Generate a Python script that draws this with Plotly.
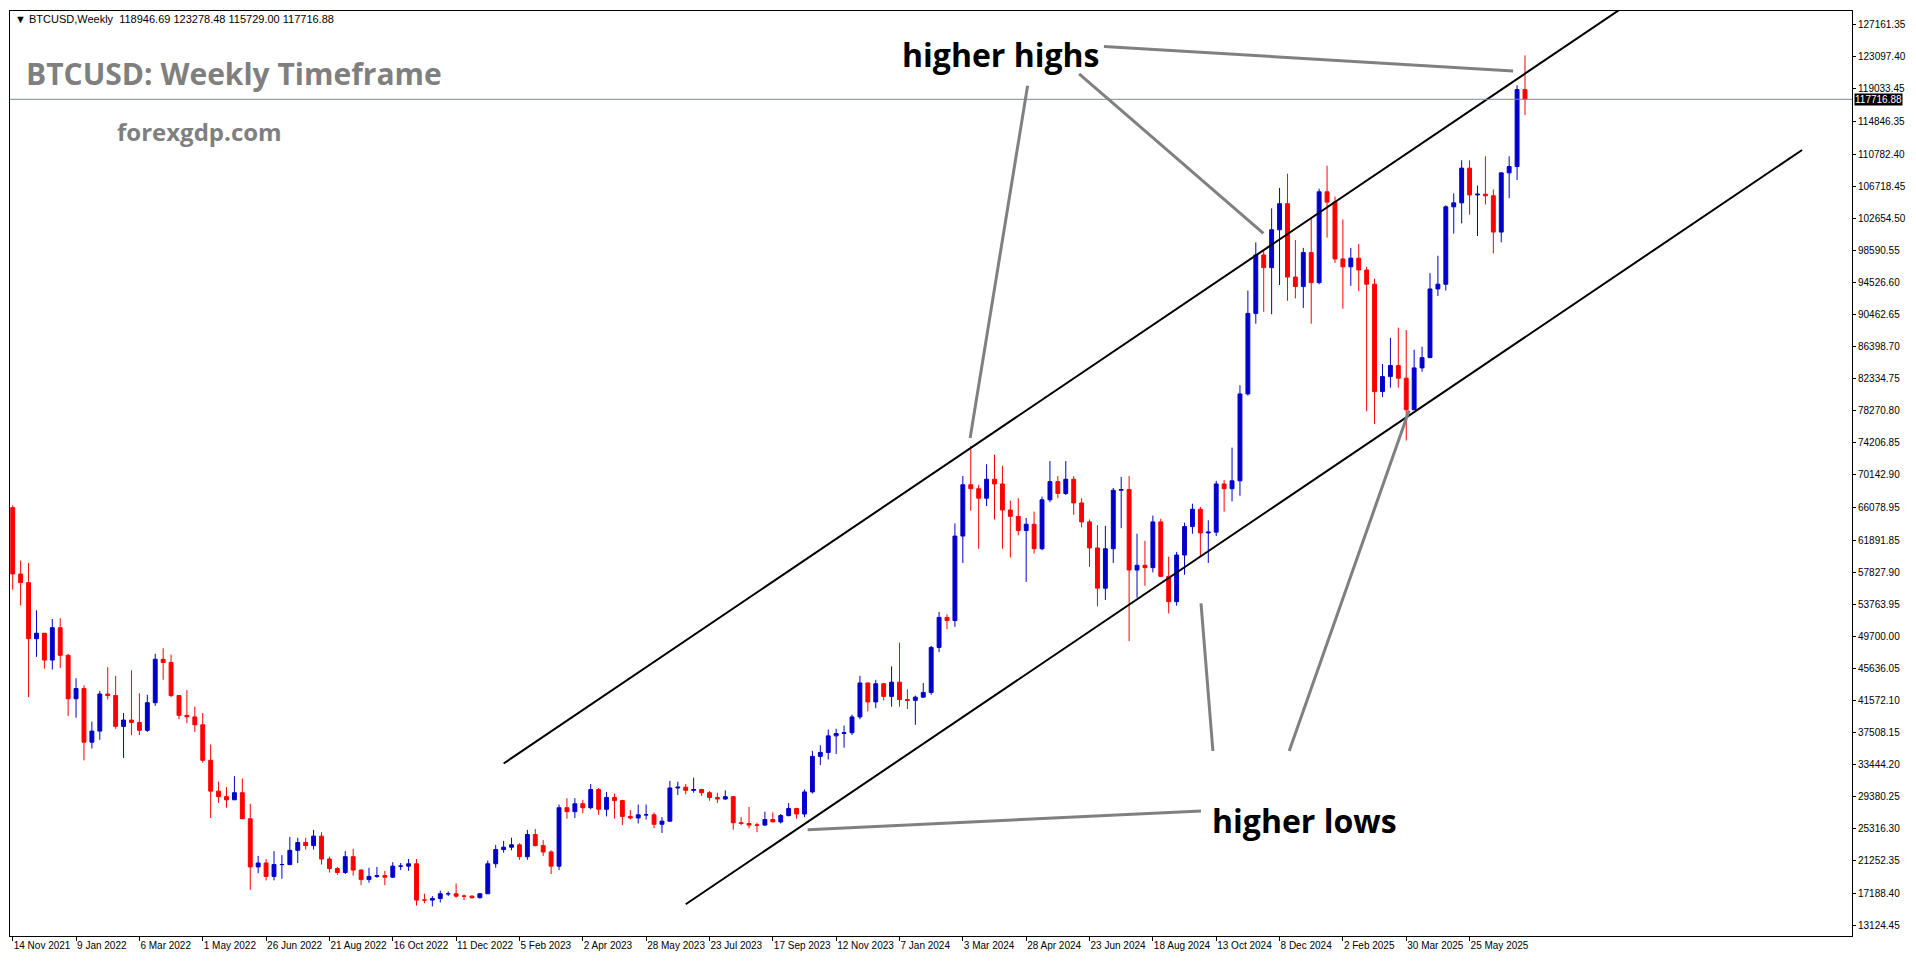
import pandas as pd
import plotly.graph_objects as go

# Weekly BTCUSD, values in thousands USD (week starts, 14 Nov 2021 .. 13 Jul 2025)
closes = [57.6, 56.5, 49.4, 50.1, 46.7, 50.8, 47.3, 41.8,
          43.1, 36.3, 37.7, 42.4, 42.2, 38.3, 39.1, 38.8,
          37.8, 41.3, 46.8, 46.4, 42.2, 39.7, 39.5, 38.5,
          34.0, 30.1, 29.4, 29.0, 29.9, 26.6, 20.5, 21.0,
          19.3, 20.8, 20.8, 22.6, 23.6, 23.2, 24.4, 21.5,
          20.3, 19.8, 21.8, 20.1, 18.9, 19.3, 19.4, 19.2,
          20.6, 20.6, 20.9, 16.3, 16.3, 16.5, 17.1, 17.1,
          16.8, 16.8, 16.6, 17.1, 20.9, 22.7, 23.0, 23.3,
          21.8, 24.6, 23.2, 22.4, 20.6, 28.0, 27.5, 28.5,
          28.0, 30.3, 27.8, 29.3, 28.9, 26.9, 26.7, 27.1,
          27.1, 25.9, 26.3, 30.5, 30.6, 30.2, 30.3, 29.9,
          29.3, 29.1, 29.4, 26.1, 26.0, 25.8, 25.8, 26.5,
          26.2, 27.0, 27.9, 27.2, 30.0, 34.5, 35.0, 37.1,
          37.4, 37.5, 39.5, 43.8, 41.4, 43.7, 42.1, 43.9,
          41.7, 41.6, 42.0, 42.6, 48.3, 52.1, 51.7, 62.4,
          68.9, 68.4, 67.2, 69.6, 69.0, 65.7, 64.9, 63.1,
          63.9, 60.8, 67.0, 69.3, 67.8, 69.6, 66.6, 64.2,
          60.9, 55.8, 60.8, 68.2, 68.3, 58.1, 58.7, 58.4,
          64.2, 57.3, 54.1, 60.0, 63.6, 65.8, 62.8, 62.9,
          69.0, 68.4, 69.4, 80.4, 90.6, 98.0, 96.4, 101.2,
          104.5, 95.2, 94.0, 98.3, 94.5, 106.0, 104.7, 97.5,
          96.5, 97.6, 96.1, 94.3, 80.7, 82.6, 84.0, 82.4,
          78.4, 83.7, 85.0, 93.7, 94.3, 104.1, 104.6, 109.0,
          105.6, 105.7, 105.5, 100.9, 108.4, 109.2, 118.95, 117.717]
highs = [66.3, 59.3, 59.0, 53.0, 50.0, 51.9, 52.0, 47.5,
         44.4, 43.5, 38.9, 42.8, 45.8, 44.7, 40.0, 45.4,
         42.5, 42.3, 47.5, 48.2, 47.4, 41.5, 42.9, 40.8,
         40.0, 36.0, 31.3, 30.6, 32.0, 31.7, 28.5, 21.9,
         21.5, 22.5, 22.0, 24.3, 24.2, 24.2, 25.2, 24.9,
         21.8, 20.5, 22.5, 22.8, 20.2, 20.4, 20.5, 20.0,
         21.1, 21.0, 21.5, 21.5, 17.1, 16.8, 17.5, 17.4,
         18.4, 17.0, 16.9, 17.2, 21.3, 23.3, 23.8, 24.2,
         23.5, 25.2, 25.3, 23.9, 22.6, 28.4, 29.2, 29.2,
         29.0, 31.0, 30.5, 30.0, 29.8, 29.0, 27.7, 28.4,
         28.4, 27.4, 26.8, 31.4, 31.3, 31.0, 31.8, 30.4,
         30.1, 29.9, 30.2, 29.5, 26.8, 28.1, 26.1, 27.5,
         27.4, 27.2, 28.6, 28.0, 30.3, 35.2, 35.9, 37.9,
         38.0, 38.4, 39.8, 44.7, 43.4, 44.2, 43.8, 45.9,
         48.9, 43.0, 42.2, 43.8, 48.5, 52.8, 52.5, 64.0,
         70.0, 73.8, 68.9, 71.5, 72.7, 71.3, 66.9, 67.2,
         64.7, 65.5, 67.4, 71.9, 70.0, 71.9, 70.0, 67.2,
         64.5, 63.8, 63.7, 68.5, 69.9, 70.0, 62.7, 61.8,
         65.0, 64.6, 59.8, 60.4, 64.1, 66.5, 66.1, 64.4,
         69.4, 69.5, 73.6, 81.5, 93.5, 99.6, 98.7, 103.9,
         106.5, 108.3, 99.9, 98.9, 102.7, 106.4, 109.3, 105.4,
         102.5, 98.9, 99.4, 96.5, 95.0, 84.2, 87.5, 88.8,
         88.5, 86.0, 86.4, 95.7, 97.9, 104.3, 105.8, 110.0,
         110.0, 106.8, 110.5, 106.3, 108.5, 110.5, 119.5, 123.278]
lows = [55.6, 53.6, 42.0, 47.1, 45.6, 45.5, 45.7, 39.6,
        39.4, 34.0, 35.5, 36.6, 41.7, 38.0, 34.3, 37.2,
        37.2, 37.6, 40.9, 44.2, 42.0, 39.2, 38.7, 37.6,
        33.7, 26.7, 28.6, 28.0, 29.0, 28.0, 17.6, 19.7,
        18.8, 18.8, 19.0, 20.7, 21.0, 22.7, 22.7, 20.8,
        19.8, 19.5, 19.6, 19.4, 18.2, 18.5, 19.1, 18.2,
        19.1, 20.1, 20.0, 15.6, 15.9, 15.5, 16.0, 16.8,
        16.6, 16.3, 16.5, 16.5, 17.1, 20.4, 22.3, 22.6,
        21.4, 21.4, 23.1, 21.9, 19.6, 20.1, 26.6, 26.7,
        27.3, 27.8, 27.1, 26.9, 26.6, 25.8, 26.5, 26.0,
        26.5, 25.4, 24.8, 26.2, 29.6, 29.7, 29.9, 29.5,
        28.9, 28.6, 29.0, 25.2, 25.8, 25.4, 24.9, 25.7,
        26.2, 26.0, 26.9, 26.6, 26.8, 29.8, 33.4, 34.1,
        34.8, 35.6, 37.2, 39.2, 40.2, 40.6, 41.6, 40.8,
        40.8, 40.5, 38.5, 41.9, 42.3, 47.7, 50.6, 50.9,
        59.0, 65.6, 60.8, 66.2, 64.5, 60.8, 59.7, 62.5,
        56.6, 60.2, 60.6, 66.7, 67.2, 67.6, 65.1, 63.5,
        58.5, 53.5, 54.3, 59.0, 63.4, 49.1, 54.6, 56.1,
        57.8, 57.2, 52.6, 53.6, 57.5, 62.7, 59.8, 59.0,
        62.4, 65.5, 66.8, 67.5, 80.2, 89.3, 90.8, 90.5,
        94.2, 92.2, 92.5, 91.3, 89.3, 94.3, 100.2, 97.0,
        91.2, 94.1, 93.4, 78.2, 76.6, 80.0, 81.2, 81.2,
        74.5, 79.5, 83.2, 85.0, 92.8, 93.5, 100.7, 102.0,
        103.1, 100.4, 104.4, 98.2, 99.6, 105.2, 107.5, 115.729]
first_open = 66.0

tick_dates = ["2021-11-14", "2022-01-09", "2022-03-06", "2022-05-01", "2022-06-26", "2022-08-21",
              "2022-10-16", "2022-12-11", "2023-02-05", "2023-04-02", "2023-05-28", "2023-07-23",
              "2023-09-17", "2023-11-12", "2024-01-07", "2024-03-03", "2024-04-28", "2024-06-23",
              "2024-08-18", "2024-10-13", "2024-12-08", "2025-02-02", "2025-03-30", "2025-05-25"]
price_ticks = [127161.35, 123097.40, 119033.45, 114846.35, 110782.40, 106718.45, 102654.50,
               98590.55, 94526.60, 90462.65, 86398.70, 82334.75, 78270.80, 74206.85, 70142.90,
               66078.95, 61891.85, 57827.90, 53763.95, 49700.00, 45636.05, 41572.10, 37508.15,
               33444.20, 29380.25, 25316.30, 21252.35, 17188.40, 13124.45]
last_price = 117716.88

# channel lines (date, price)
upper_channel = (["2023-01-22", "2025-10-05"], [33600, 129100])
lower_channel = (["2023-07-02", "2026-03-15"], [15770, 111300])

dates = pd.date_range("2021-11-14", periods=len(closes), freq="7D")
c = [v * 1000 for v in closes]
h = [v * 1000 for v in highs]
l = [v * 1000 for v in lows]
o = [first_open * 1000] + c[:-1]
o[-1] = 118946.69

fig = go.Figure()
fig.add_trace(go.Candlestick(
    x=dates, open=o, high=h, low=l, close=c,
    increasing=dict(line=dict(color="#0000CD", width=1), fillcolor="#0000CD"),
    decreasing=dict(line=dict(color="#FF0000", width=1), fillcolor="#FF0000"),
    whiskerwidth=0, showlegend=False, hoverinfo="skip"))

for xs, ys in (upper_channel, lower_channel):
    fig.add_trace(go.Scatter(x=pd.to_datetime(xs), y=ys, mode="lines",
                             line=dict(color="black", width=2), showlegend=False, hoverinfo="skip"))

fig.add_hline(y=last_price, line=dict(color="#778899", width=1))

# reference pixel frame (for positioning annotations in paper coordinates)
L_, R_, T_, B_ = 2, 1861, 3, 943
W, H = 1900, 948
def px(x, y):
    return (x - L_) / (R_ - L_), 1 - (y - T_) / (B_ - T_)

grey_lines = [((1029, 79), (971, 437)), ((1081, 67), (1267, 229)), ((1106, 39), (1519, 64)),
              ((1216, 755), (1204, 605)), ((1293, 755), (1414, 409)), ((1204, 816), (807, 835))]
for (a, b) in grey_lines:
    x0, y0 = px(*a); x1, y1 = px(*b)
    fig.add_shape(type="line", xref="paper", yref="paper", x0=x0, y0=y0, x1=x1, y1=y1,
                  line=dict(color="#808080", width=3))

def ann(text, x, y, size, color, bold=True, family="Open Sans", xanchor="left"):
    xp, yp = px(x, y)
    fig.add_annotation(text=f"<b>{text}</b>" if bold else text, xref="paper", yref="paper",
                       x=xp, y=yp, xanchor=xanchor, yanchor="middle", showarrow=False,
                       font=dict(size=size, color=color, family=family))

ann("▼ BTCUSD,Weekly  118946.69 123278.48 115729.00 117716.88", 5, 11, 11, "black", bold=False, family="Liberation Sans")
ann("BTCUSD: Weekly Timeframe", 16, 67, 30, "#7F7F7F")
ann("forexgdp.com", 108, 125, 24, "#7F7F7F")
ann("higher highs", 900, 47, 32, "black")
ann("higher lows", 1213, 826, 32, "black")

fig.add_annotation(text=f"{last_price:.2f}", xref="paper", yref="y", x=1.0, y=last_price,
                   xanchor="left", yanchor="middle", showarrow=False, xshift=2,
                   bgcolor="black", font=dict(color="white", size=10, family="Liberation Sans"),
                   borderpad=0)

start = pd.Timestamp("2021-11-14") - pd.Timedelta(days=2.4)
end = pd.Timestamp("2021-11-14") + pd.Timedelta(weeks=232.3)
fig.update_layout(
    width=W, height=H, margin=dict(l=2, r=56, t=3, b=20),
    paper_bgcolor="white", plot_bgcolor="white",
    xaxis=dict(type="date", range=[start, end], rangeslider=dict(visible=False),
               tickvals=pd.to_datetime(tick_dates),
               ticktext=[pd.Timestamp(d).strftime("%-d %b %Y") for d in tick_dates],
               tickangle=0, ticklabelposition="outside right",
               ticks="outside", ticklen=4, tickcolor="black", showgrid=False, zeroline=False,
               showline=True, linecolor="black", mirror=True,
               tickfont=dict(size=10, family="Liberation Sans", color="black")),
    yaxis=dict(side="right", range=[11753, 128900], tickvals=price_ticks,
               ticktext=[f"{v:.2f}" for v in price_ticks],
               ticks="outside", ticklen=3, tickcolor="black", showgrid=False, zeroline=False,
               showline=True, linecolor="black", mirror=True,
               tickfont=dict(size=10, family="Liberation Sans", color="black")),
)
fig.write_html("out.html")
